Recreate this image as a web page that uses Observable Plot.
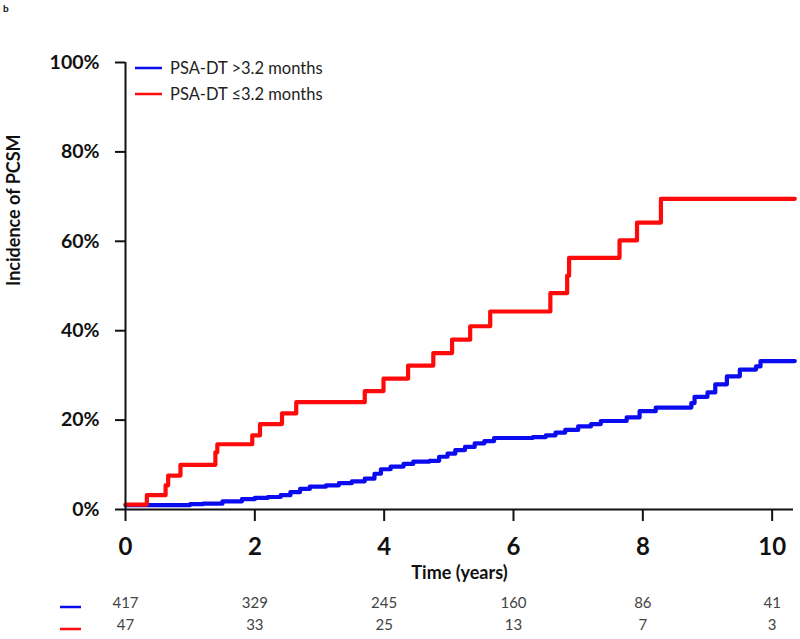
<!DOCTYPE html>
<html>
<head>
<meta charset="utf-8">
<script src="https://cdn.jsdelivr.net/npm/d3@7"></script>
<script src="https://cdn.jsdelivr.net/npm/@observablehq/plot@0.6"></script>
<style>
  html, body { margin: 0; padding: 0; background: #fff; }
  #chart { position: relative; width: 800px; height: 639px; }
</style>
</head>
<body>
<div id="chart"></div>
<script>
// Time in years, cumulative incidence in %
const blueT = [0, 0.4, 1.0, 1.2, 1.5, 1.8, 2.0, 2.2, 2.4, 2.55, 2.7, 2.85, 3.1, 3.3, 3.5, 3.7, 3.85, 3.95, 4.1, 4.3, 4.45, 4.7, 4.85, 4.98, 5.1, 5.25, 5.4, 5.55, 5.7, 6.3, 6.5, 6.65, 6.8, 7.0, 7.2, 7.35, 7.75, 7.95, 8.2, 8.75, 8.8, 9.0, 9.12, 9.3, 9.5, 9.75, 9.82, 10.35];
const blueV = [1.0, 1.0, 1.2, 1.3, 1.8, 2.3, 2.6, 2.8, 3.2, 3.9, 4.6, 5.1, 5.4, 5.9, 6.3, 6.9, 8.0, 9.0, 9.6, 10.2, 10.7, 10.9, 11.8, 12.5, 13.3, 14.0, 14.8, 15.3, 16.0, 16.2, 16.6, 17.2, 17.8, 18.6, 19.1, 19.8, 20.6, 22.0, 22.8, 23.8, 25.2, 26.2, 28.0, 29.8, 31.3, 32.0, 33.2, 33.2];
const redT = [0, 0.33, 0.62, 0.66, 0.85, 1.39, 1.42, 1.96, 2.08, 2.42, 2.64, 3.7, 3.99, 4.37, 4.76, 5.05, 5.33, 5.64, 6.57, 6.83, 6.86, 7.64, 7.91, 8.28, 10.35];
const redV = [1.1, 3.2, 5.4, 7.6, 10.0, 12.8, 14.6, 16.6, 19.1, 21.5, 24.0, 26.5, 29.3, 32.2, 35.0, 38.0, 41.0, 44.3, 48.4, 52.3, 56.3, 60.2, 64.2, 69.5, 69.5];

const seriesNames = ["PSA-DT >3.2 months", "PSA-DT \u22643.2 months"];
const seriesColors = ["#0b0bef", "#ff0a0a"];

const xTicks = [0, 2, 4, 6, 8, 10];
const yTicks = [0, 20, 40, 60, 80, 100];
const atRiskTimes = [0, 2, 4, 6, 8, 10];
const atRiskBlue = [417, 329, 245, 160, 86, 41];
const atRiskRed = [47, 33, 25, 13, 7, 3];

const blue = blueT.map((t, i) => ({t, v: blueV[i]}));
const red = redT.map((t, i) => ({t, v: redV[i]}));
const riskBlue = atRiskTimes.map((t, i) => ({t, n: atRiskBlue[i]}));
const riskRed = atRiskTimes.map((t, i) => ({t, n: atRiskRed[i]}));

const font = "Lato, 'Open Sans', sans-serif";

const svg = Plot.plot({
  width: 800,
  height: 639,
  marginLeft: 125,
  marginRight: 7,
  marginTop: 62,
  marginBottom: 130,
  style: {background: "#fff", fontFamily: font, overflow: "visible"},
  x: {domain: [0, 10.33]},
  y: {domain: [0, 100]},
  marks: [
    Plot.line(blue, {x: "t", y: "v", curve: "step-after", stroke: seriesColors[0], strokeWidth: 4.2}),
    Plot.line(red, {x: "t", y: "v", curve: "step-after", stroke: seriesColors[1], strokeWidth: 4.2}),
    Plot.ruleX([0], {stroke: "#111", strokeWidth: 2}),
    Plot.ruleY([0], {stroke: "#111", strokeWidth: 2}),
    Plot.axisY({ticks: yTicks, tickFormat: d => d + "%", tickSize: 10, tickPadding: 16, fontSize: 19.5, fontWeight: "bold", stroke: "#111", strokeWidth: 2, label: null, fill: "#111"}),
    Plot.axisX({ticks: xTicks, tickFormat: d => String(d), tickSize: 12, tickPadding: 16, fontSize: 24, fontWeight: "bold", stroke: "#111", strokeWidth: 2, label: null, fill: "#111"}),
    Plot.text(["Time (years)"], {frameAnchor: "bottom", dy: 69, fontSize: 18, fontWeight: "bold", fill: "#111"}),
    Plot.text(["Incidence of PCSM"], {frameAnchor: "left", rotate: -90, dx: -111, fontSize: 18, fontWeight: "bold", fill: "#111"}),
    Plot.text(riskBlue, {x: "t", text: d => String(d.n), frameAnchor: "bottom", dy: 98, fontSize: 15, fill: "#444"}),
    Plot.text(riskRed, {x: "t", text: d => String(d.n), frameAnchor: "bottom", dy: 120, fontSize: 15, fill: "#444"})
  ]
});

document.getElementById("chart").appendChild(svg);

const s = d3.select(svg);
// panel letter
s.append("text").attr("x", 3).attr("y", 12).attr("font-size", 10).attr("font-weight", "bold")
  .attr("text-anchor", "start").attr("font-family", font).attr("fill", "#111").text("b");
// legend
const legY = [68, 94];
seriesNames.forEach((name, i) => {
  s.append("line").attr("x1", 135).attr("x2", 162).attr("y1", legY[i]).attr("y2", legY[i])
    .attr("stroke", seriesColors[i]).attr("stroke-width", 2.5);
  s.append("text").attr("x", 170).attr("y", legY[i]).attr("dy", "0.35em").attr("text-anchor", "start")
    .attr("font-size", 16.5).attr("font-family", font).attr("fill", "#222").text(name);
});
// at-risk table glyphs
const riskY = [607, 629];
riskY.forEach((y, i) => {
  s.append("line").attr("x1", 60).attr("x2", 81).attr("y1", y).attr("y2", y)
    .attr("stroke", seriesColors[i]).attr("stroke-width", 2.5);
});
</script>
</body>
</html>
